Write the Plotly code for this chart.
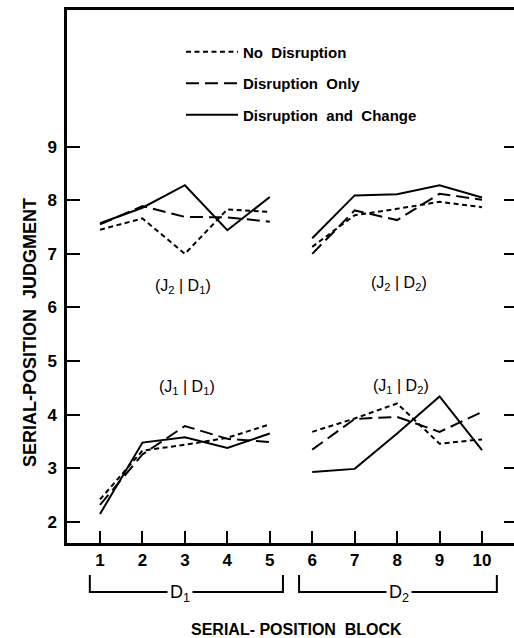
import plotly.graph_objects as go

blocks_d1 = [1, 2, 3, 4, 5]
blocks_d2 = [6, 7, 8, 9, 10]
tick_vals_x = list(range(1, 11))
tick_vals_y = [2, 3, 4, 5, 6, 7, 8, 9]

# J1 | D1 (lower left)
j1d1_none = [2.42, 3.33, 3.44, 3.57, 3.82]
j1d1_disr = [2.32, 3.26, 3.79, 3.55, 3.49]
j1d1_chg = [2.15, 3.48, 3.58, 3.38, 3.65]
# J1 | D2 (lower right)
j1d2_none = [3.68, 3.93, 4.21, 3.46, 3.54]
j1d2_disr = [3.35, 3.92, 3.96, 3.68, 4.05]
j1d2_chg = [2.93, 2.99, 3.65, 4.34, 3.34]
# J2 | D1 (upper left)
j2d1_none = [7.45, 7.66, 7.00, 7.83, 7.78]
j2d1_disr = [7.55, 7.89, 7.69, 7.68, 7.60]
j2d1_chg = [7.57, 7.86, 8.28, 7.44, 8.06]
# J2 | D2 (upper right)
j2d2_none = [7.13, 7.72, 7.84, 7.97, 7.87]
j2d2_disr = [7.00, 7.81, 7.63, 8.12, 8.01]
j2d2_chg = [7.29, 8.09, 8.11, 8.28, 8.05]

series_names = ["No&nbsp;&nbsp;Disruption", "Disruption&nbsp;&nbsp;Only",
                "Disruption&nbsp;&nbsp;and&nbsp;&nbsp;Change"]
dashes = ["5px,3.5px", "13px,6px", "solid"]

FONT = "Liberation Sans, Arial, sans-serif"
fig = go.Figure()

groups = [
    (blocks_d1, [j1d1_none, j1d1_disr, j1d1_chg]),
    (blocks_d1, [j2d1_none, j2d1_disr, j2d1_chg]),
    (blocks_d2, [j1d2_none, j1d2_disr, j1d2_chg]),
    (blocks_d2, [j2d2_none, j2d2_disr, j2d2_chg]),
]
for gi, (xs, ys_list) in enumerate(groups):
    for si, ys in enumerate(ys_list):
        fig.add_trace(go.Scatter(
            x=xs, y=ys, mode="lines",
            line=dict(color="black", width=2, dash=dashes[si]),
            name=series_names[si], legendgroup=str(si),
            showlegend=(gi == 0),
        ))

# dummy trace for right-side ticks
fig.add_trace(go.Scatter(x=[None], y=[None], yaxis="y2", showlegend=False))

fig.update_layout(
    width=514, height=638,
    margin=dict(l=67, r=0, t=10, b=95),
    paper_bgcolor="white", plot_bgcolor="white",
    font=dict(family=FONT, color="black"),
    showlegend=True,
    legend=dict(
        x=0.255, y=0.952, xanchor="left", yanchor="top",
        font=dict(size=15, family=FONT, color="black", weight="bold"),
        traceorder="grouped", tracegroupgap=9,
        bgcolor="rgba(0,0,0,0)", itemwidth=52,
    ),
    xaxis=dict(
        range=[0.222, 10.754], tickvals=tick_vals_x,
        ticks="inside", ticklen=12, tickwidth=2, tickcolor="black",
        showline=True, linewidth=2.5, linecolor="black", mirror=True,
        showgrid=False, zeroline=False,
        tickfont=dict(size=17, family=FONT, color="black", weight="bold"),
    ),
    yaxis=dict(
        range=[1.608, 11.547], tickvals=tick_vals_y,
        ticks="inside", ticklen=13, tickwidth=2, tickcolor="black",
        showline=True, linewidth=2.5, linecolor="black",
        showgrid=False, zeroline=False,
        tickfont=dict(size=17, family=FONT, color="black", weight="bold"),
        ticklabelstandoff=4,
    ),
    yaxis2=dict(
        range=[1.608, 11.547], tickvals=tick_vals_y, overlaying="y", side="right",
        ticks="inside", ticklen=10, tickwidth=2, tickcolor="black",
        showticklabels=False, showline=False, showgrid=False, zeroline=False,
    ),
)

# panel labels
panel_labels = [
    (2.95, 6.4, "(J<sub>2</sub> | D<sub>1</sub>)"),
    (8.05, 6.45, "(J<sub>2</sub> | D<sub>2</sub>)"),
    (3.05, 4.5, "(J<sub>1</sub> | D<sub>1</sub>)"),
    (8.1, 4.52, "(J<sub>1</sub> | D<sub>2</sub>)"),
]
for x, y, t in panel_labels:
    fig.add_annotation(x=x, y=y, text=t, showarrow=False,
                       font=dict(size=16, family=FONT, color="black"))

# brackets under the axis for D1 and D2
def bracket(x0, x1, label, xl):
    y_top, y_bot = -0.060, -0.092
    fig.add_shape(type="path", xref="x", yref="paper",
                  path=f"M {x0},{y_top} L {x0},{y_bot} L {x1},{y_bot} L {x1},{y_top}",
                  line=dict(color="black", width=2))
    fig.add_annotation(x=xl, y=y_bot, xref="x", yref="paper", text=label,
                       showarrow=False, bgcolor="white", borderpad=2, yshift=-16,
                       font=dict(size=18, family=FONT, color="black"))

bracket(0.76, 5.31, "D<sub>1</sub>", 2.88)
bracket(5.69, 10.35, "D<sub>2</sub>", 8.05)

# axis titles
fig.add_annotation(x=(296 - 67) / 447, y=-(628 - 543) / 533, xref="paper", yref="paper",
                   text="SERIAL- POSITION&nbsp;&nbsp;BLOCK", showarrow=False, yshift=-12,
                   font=dict(size=16, family=FONT, color="black", weight="bold"))
fig.add_annotation(x=-(67 - 18) / 447, y=(543 - 333) / 533, xref="paper", yref="paper",
                   text="SERIAL-POSITION&nbsp;&nbsp;JUDGMENT", showarrow=False, textangle=-90,
                   font=dict(size=18, family=FONT, color="black", weight="bold"))

fig.write_html("out.html")
